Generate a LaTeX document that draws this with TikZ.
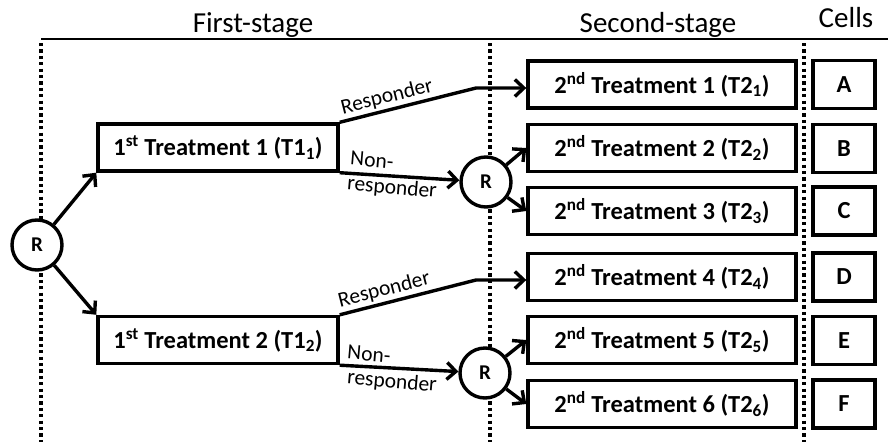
\documentclass[tikz,border=0pt]{standalone}
\usepackage{fontspec}
\setmainfont{Carlito}
\usetikzlibrary{arrows.meta}
\begin{document}
\begin{tikzpicture}[x=1pt,y=-1pt,
  every node/.style={inner sep=0pt},
  tbox/.style={draw, line width=3.4pt, minimum height=47pt, fill=white,
    font=\fontsize{24.5}{27}\selectfont\bfseries},
  cbox/.style={tbox, minimum width=62pt, minimum height=48pt},
  rnode/.style={circle, draw, fill=white, line width=3.4pt, minimum size=50pt,
    font=\fontsize{21}{23}\selectfont\bfseries},
  conn/.style={line width=3.4pt, -{Straight Barb[length=9pt,width=17pt,line width=3.4pt]}},
  divider/.style={line width=3.2pt, dash pattern=on 3.2pt off 3.2pt},
  head/.style={font=\fontsize{29}{31}\selectfont, anchor=base},
  lab/.style={font=\fontsize{21.5}{23}\selectfont}
]
\useasboundingbox (0,0) rectangle (888,442);
% header
\draw[line width=2.2pt] (41,39) -- (888,39);
\node[head] (h1) at (253,32) {First-stage};
\node[head] (h2) at (658,32) {Second-stage};
\node[head] (h3) at (846,27) {Cells};
% dividers
\draw[divider] (41,43) -- (41,442);
\draw[divider] (490,43) -- (490,442);
\draw[divider] (804,43) -- (804,442);
% first stage
\node[rnode] (R1) at (37,245) {R};
\node[tbox, minimum width=240pt] (T11) at (218,147.5) {1\textsuperscript{st} Treatment 1 (T1\textsubscript{1})};
\node[tbox, minimum width=240pt] (T12) at (218,340) {1\textsuperscript{st} Treatment 2 (T1\textsubscript{2})};
% second stage
\node[rnode] (R2) at (486,182) {R};
\node[rnode] (R3) at (485,373) {R};
\node[tbox, minimum width=268pt] (T21) at (662,84.5) {2\textsuperscript{nd} Treatment 1 (T2\textsubscript{1})};
\node[tbox, minimum width=268pt] (T22) at (662,148) {2\textsuperscript{nd} Treatment 2 (T2\textsubscript{2})};
\node[tbox, minimum width=268pt] (T23) at (662,211) {2\textsuperscript{nd} Treatment 3 (T2\textsubscript{3})};
\node[tbox, minimum width=268pt] (T24) at (662,277) {2\textsuperscript{nd} Treatment 4 (T2\textsubscript{4})};
\node[tbox, minimum width=268pt] (T25) at (662,340) {2\textsuperscript{nd} Treatment 5 (T2\textsubscript{5})};
\node[tbox, minimum width=268pt] (T26) at (662,404) {2\textsuperscript{nd} Treatment 6 (T2\textsubscript{6})};
% cells
\node[cbox] (CA) at (844,84.5) {A};
\node[cbox] (CB) at (844,148.5) {B};
\node[cbox] (CC) at (844,211) {C};
\node[cbox] (CD) at (844,277) {D};
\node[cbox] (CE) at (844,340.5) {E};
\node[cbox] (CF) at (844,404) {F};
% connectors
\coordinate (b1) at (476,88);
\coordinate (b2) at (476,280);
\draw[conn] (R1) -- (T11.south west);
\draw[conn] (R1) -- (T12.north west);
\draw[conn] (T11.north east) -- node[lab, pos=0.37, sloped, above=2pt] (l1) {Responder} (b1) -- (b1 -| T21.west);
\draw[conn] (T11.south east) -- (R2);
\draw[conn] (R2) -- (T22.west);
\draw[conn] (R2) -- (T23.west);
\draw[conn] (T12.north east) -- node[lab, pos=0.35, sloped, above=2pt] (l4) {Responder} (b2) -- (b2 -| T24.west);
\draw[conn] (T12.south east) -- (R3);
\draw[conn] (R3) -- (T25.west);
\draw[conn] (R3) -- (T26.west);
% labels
\node[lab, rotate=-5] (l2) at (372,160) {Non-};
\node[lab, rotate=-5] (l3) at (392,188) {responder};
\node[lab, rotate=-5] (l5) at (369,354) {Non-};
\node[lab, rotate=-5] (l6) at (392,382) {responder};
\end{tikzpicture}
\end{document}
